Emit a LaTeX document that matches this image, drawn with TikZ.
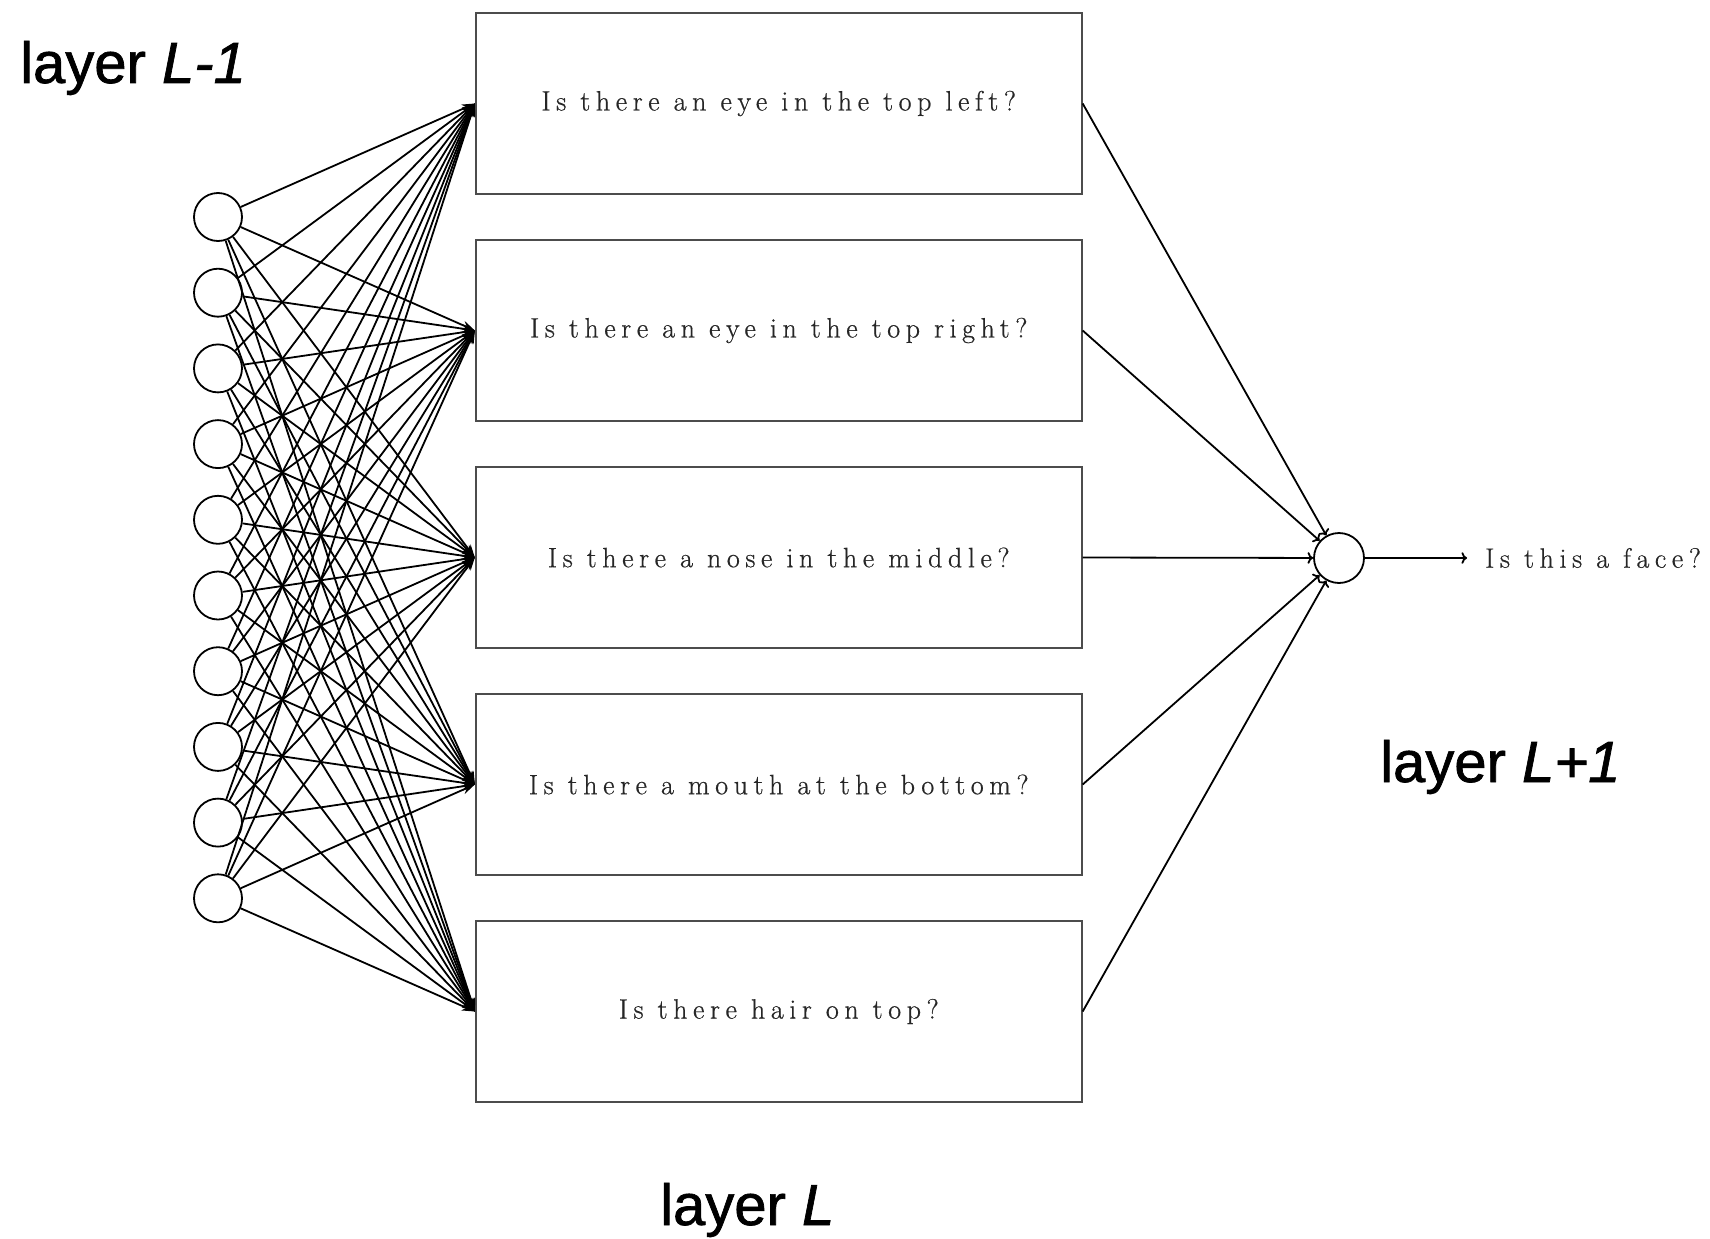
\documentclass[tikz,border=0pt]{standalone}
\usepackage{fontspec}
\newfontfamily\labelfont[FakeBold=1.2]{Liberation Sans}
\newfontfamily\boxfont[LetterSpace=20,FakeBold=0.6]{Latin Modern Roman}
\usetikzlibrary{arrows.meta}
\begin{document}
\begin{tikzpicture}[x=1pt,y=-1pt,
  neuron/.style={circle,draw=black,line width=1.8pt,minimum size=48pt,inner sep=0pt,fill=white},
  qbox/.style={rectangle,draw=black!70,line width=1.8pt,minimum width=606pt,minimum height=181pt,inner sep=0pt,
    font=\boxfont\fontsize{28}{34}\selectfont,text=black!85},
  inedge/.style={line width=1.8pt,-{Stealth[length=13pt,width=9pt]}},
  outedge/.style={line width=1.8pt,->},
  layerlabel/.style={font=\labelfont\fontsize{58}{70}\selectfont,anchor=west,inner sep=0pt}]
\useasboundingbox (0,0) rectangle (1710,1239);
\fill[white] (0,0) rectangle (1710,1239);
% boxes
\foreach \j/\t in {1/{Is there an eye in the top left?},2/{Is there an eye in the top right?},3/{Is there a nose in the middle?},4/{Is there a mouth at the bottom?},5/{Is there hair on top?}}{
  \node[qbox] (b\j) at (778.75,{103.5+227*(\j-1)}) {\t};
}
% input neurons
\foreach \i in {1,...,10}{
  \node[neuron] (n\i) at (218,{217+75.7*(\i-1)}) {};
}
% edges
\foreach \i in {1,...,10}{
  \foreach \j in {1,...,5}{
    \draw[inedge] (n\i) -- (b\j.west);
  }
}
% output neuron
\node[neuron,minimum size=50pt] (out) at (1339,558) {};
\foreach \j in {1,...,5}{
  \draw[outedge] (b\j.east) -- (out);
}
\node[anchor=west,inner sep=0pt,font=\boxfont\fontsize{28}{34}\selectfont,text=black!85] (face) at (1485,558) {Is this a face?};
\draw[outedge,shorten >=18pt] (out) -- (face.west);
% layer labels
\node[layerlabel] (l1) at (20,68) {layer \textit{L-1}};
\node[layerlabel] (l2) at (1380,767) {layer \textit{L+1}};
\node[layerlabel] (l3) at (660,1210) {layer \textit{L}};
\end{tikzpicture}
\end{document}
